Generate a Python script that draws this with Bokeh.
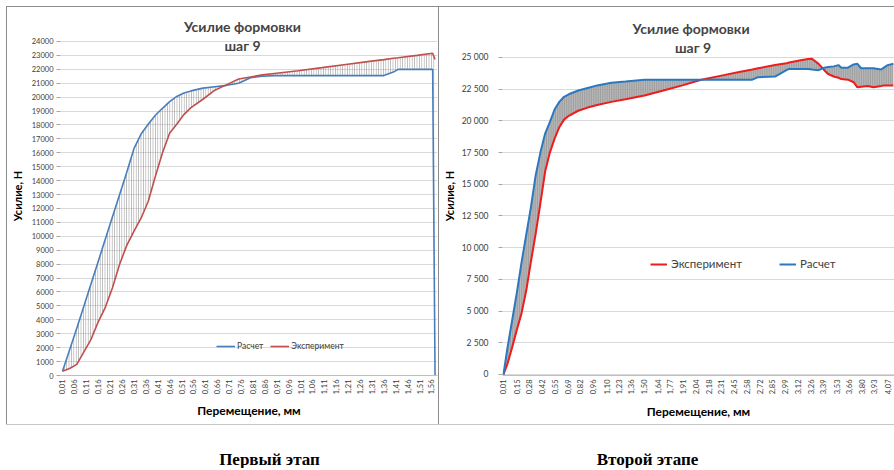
import numpy as np
from bokeh.plotting import figure
from bokeh.models import (Range1d, FixedTicker, Label, Legend, LegendItem,
                          ColumnDataSource, Title, Spacer)
from bokeh.layouts import column, row
from bokeh.embed import file_html
from bokeh.resources import INLINE
from bokeh.core.properties import value

# ---------------- data: first stage ----------------
s1_x = [0.01, 0.04, 0.07, 0.10, 0.13, 0.16, 0.19, 0.22, 0.25, 0.28, 0.31, 0.34,
        0.37, 0.40, 0.43, 0.46, 0.49, 0.52, 0.55, 0.60, 0.65, 0.70, 0.75, 0.80,
        0.85, 0.90, 1.00, 1.10, 1.20, 1.30, 1.36, 1.40, 1.42, 1.50, 1.565, 1.575]
s1_calc = [300, 1850, 3400, 5000, 6600, 8200, 9800, 11400, 13000, 14600, 16300, 17350,
           18060, 18700, 19200, 19680, 20050, 20300, 20450, 20650, 20750, 20850, 21000, 21400,
           21500, 21550, 21550, 21550, 21550, 21550, 21550, 21800, 22000, 22000, 22000, 0]
s1_exp = [300, 500, 800, 1700, 2600, 3850, 4900, 6300, 8000, 9350, 10350, 11300,
          12500, 14300, 16000, 17400, 18050, 18750, 19250, 19850, 20500, 20900, 21300, 21450,
          21600, 21700, 21900, 22120, 22350, 22570, 22700, 22800, 22830, 23000, 23150, 22700]
s1_xlabels = ["0,01", "0,06", "0,11", "0,16", "0,21", "0,26", "0,31", "0,36", "0,41", "0,46",
              "0,51", "0,56", "0,61", "0,66", "0,71", "0,76", "0,81", "0,86", "0,91", "0,96",
              "1,01", "1,06", "1,11", "1,16", "1,21", "1,26", "1,31", "1,36", "1,41", "1,46",
              "1,51", "1,56"]
s1_yticks = list(range(0, 24001, 1000))

# ---------------- data: second stage ----------------
s2_x = [0.01, 0.05, 0.10, 0.15, 0.20, 0.25, 0.30, 0.35, 0.40, 0.45, 0.50, 0.55, 0.60,
        0.65, 0.70, 0.80, 0.90, 1.00, 1.15, 1.30, 1.50, 1.70, 1.90, 2.10, 2.30, 2.50,
        2.64, 2.70, 2.88, 3.00, 3.03, 3.15, 3.23, 3.27, 3.34, 3.40, 3.44, 3.50, 3.55,
        3.58, 3.65, 3.71, 3.75, 3.79, 3.86, 3.92, 4.00, 4.03, 4.07, 4.13]
s2_calc = [0, 2000, 4200, 6400, 8800, 11000, 13200, 15700, 17500, 19000, 19900, 20900, 21500,
           21900, 22100, 22400, 22600, 22800, 23000, 23100, 23250, 23250, 23250, 23250, 23250, 23250,
           23250, 23450, 23500, 24000, 24100, 24100, 24100, 24050, 24000, 24200, 24250, 24300, 24400,
           24200, 24200, 24450, 24500, 24150, 24150, 24150, 24050, 24200, 24400, 24500]
s2_exp = [0, 800, 2100, 3500, 4800, 6600, 8900, 11100, 13500, 16000, 17500, 18600, 19500,
          20100, 20400, 20800, 21050, 21250, 21500, 21700, 22000, 22400, 22800, 23250, 23550, 23850,
          24050, 24150, 24400, 24550, 24600, 24780, 24880, 24900, 24500, 24000, 23700, 23500, 23400,
          23300, 23250, 23050, 22650, 22700, 22750, 22650, 22750, 22800, 22800, 22800]
s2_xlabels = ["0,01", "0,15", "0,28", "0,42", "0,55", "0,69", "0,82", "0,96", "1,10", "1,23",
              "1,36", "1,50", "1,64", "1,77", "1,91", "2,04", "2,18", "2,31", "2,45", "2,58",
              "2,72", "2,85", "2,99", "3,12", "3,26", "3,39", "3,53", "3,66", "3,80", "3,93",
              "4,07"]
s2_yticks = list(range(0, 25001, 2500))
s2_ylabels = ["0", "2 500", "5 000", "7 500", "10 000", "12 500", "15 000", "17 500",
              "20 000", "22 500", "25 000"]

title_1 = "Усилие формовки"
title_2 = "шаг 9"
x_title = "Перемещение, мм"
y_title = "Усилие, Н"
name_calc = "Расчет"
name_exp = "Эксперимент"
captions = ["Первый этап", "Второй этапе"]

FONT = "Lato"
BORDER = {"outline": "1px solid #8c8c8c"}


def style_common(p):
    p.outline_line_color = None
    p.background_fill_color = "white"
    p.border_fill_color = "white"
    p.xgrid.visible = False
    p.ygrid.grid_line_color = "#d9d9d9"
    p.ygrid.grid_line_width = 1
    for ax in (p.xaxis[0], p.yaxis[0]):
        ax.major_label_text_font = FONT
        ax.major_label_text_color = "#404040"
        ax.axis_label_text_font = FONT
        ax.axis_label_text_font_style = "bold"
        ax.axis_label_text_color = "#000000"
        ax.minor_tick_line_color = None
    p.yaxis.axis_line_color = None
    p.yaxis.major_tick_line_color = "#a6a6a6"
    p.yaxis.major_tick_out = 4
    p.yaxis.major_tick_in = 0
    p.xaxis.axis_line_color = "#bfbfbf"
    p.xaxis.major_tick_line_color = None
    p.xaxis.major_tick_out = 0
    p.xaxis.major_tick_in = 0
    p.xaxis.major_label_orientation = np.pi / 2


# ---------------- first chart ----------------
W1, H1 = 431, 417
p1 = figure(width=W1, height=H1, output_backend="svg", toolbar_location=None,
            x_range=Range1d(0.0016, 1.5853), y_range=Range1d(0, 25796),
            min_border_left=53, min_border_right=1, min_border_top=9, min_border_bottom=49,
            styles=BORDER)
style_common(p1)
src1 = ColumnDataSource(dict(x=s1_x, calc=s1_calc, exp=s1_exp))
p1.varea(x="x", y1="calc", y2="exp", source=src1, fill_color=None,
         hatch_pattern="vertical_line", hatch_color="#7a7a7a", hatch_scale=2.4,
         hatch_weight=0.6)
r1c = p1.line("x", "calc", source=src1, line_color="#4a7ebb", line_width=1.6)
r1e = p1.line("x", "exp", source=src1, line_color="#c0504d", line_width=1.6)

p1.yaxis.ticker = FixedTicker(ticks=s1_yticks)
p1.xaxis.ticker = FixedTicker(ticks=[float(s.replace(",", ".")) for s in s1_xlabels])
p1.xaxis.major_label_overrides = {float(s.replace(",", ".")): s for s in s1_xlabels}
p1.yaxis.major_label_text_font_size = "7.5px"
p1.xaxis.major_label_text_font_size = "7.5px"
p1.xaxis.major_label_standoff = 4
p1.yaxis.major_label_standoff = 3
p1.xaxis.axis_label = x_title
p1.yaxis.axis_label = y_title
p1.xaxis.axis_label_text_font_size = "12px"
p1.yaxis.axis_label_text_font_size = "11px"
p1.xaxis.axis_label_standoff = 6
p1.yaxis.axis_label_standoff = 5

p1.add_layout(Label(x=0.766, y=25078, text=title_1, text_font=FONT, text_font_size="14px",
                    text_font_style="bold", text_align="center", text_baseline="middle"))
p1.add_layout(Label(x=0.766, y=23713, text=title_2, text_font=FONT, text_font_size="14px",
                    text_font_style="bold", text_align="center", text_baseline="middle"))

leg1 = Legend(items=[LegendItem(label=name_calc, renderers=[r1c]),
                     LegendItem(label=name_exp, renderers=[r1e])],
              orientation="horizontal", location=(156, 24), padding=0, margin=0,
              spacing=7, label_standoff=2, glyph_width=19, glyph_height=8, label_height=8,
              label_text_font=FONT, label_text_font_size="8.5px", label_text_color="#404040",
              border_line_color=None, background_fill_color=None)
p1.add_layout(leg1)

# ---------------- second chart ----------------
W2, H2 = 455, 417
p2 = figure(width=W2, height=H2, output_backend="svg", toolbar_location=None,
            x_range=Range1d(-0.0004, 4.142), y_range=Range1d(-79, 28233),
            min_border_left=58, min_border_right=0, min_border_top=9, min_border_bottom=49,
            styles=BORDER)
style_common(p2)
src2 = ColumnDataSource(dict(x=s2_x, calc=s2_calc, exp=s2_exp))
p2.varea(x="x", y1="calc", y2="exp", source=src2, fill_color="#a8a8a8", fill_alpha=0.8,
         hatch_pattern="vertical_line", hatch_color="#5c5c5c", hatch_scale=1.8,
         hatch_weight=0.7)
r2e = p2.line("x", "exp", source=src2, line_color="#ee1c1c", line_width=2)
r2c = p2.line("x", "calc", source=src2, line_color="#2a78bf", line_width=2)

p2.yaxis.ticker = FixedTicker(ticks=s2_yticks)
p2.yaxis.major_label_overrides = {t: s for t, s in zip(s2_yticks, s2_ylabels)}
p2.xaxis.ticker = FixedTicker(ticks=[float(s.replace(",", ".")) for s in s2_xlabels])
p2.xaxis.major_label_overrides = {float(s.replace(",", ".")): s for s in s2_xlabels}
p2.yaxis.major_label_text_font_size = "8.5px"
p2.xaxis.major_label_text_font_size = "7.5px"
p2.xaxis.major_label_standoff = 4
p2.yaxis.major_label_standoff = 10
p2.yaxis.axis_label = y_title
p2.yaxis.axis_label_text_font_size = "11px"
p2.yaxis.axis_label_standoff = 3

p2.add_layout(Label(x=1.992, y=27287, text=title_1, text_font=FONT, text_font_size="14px",
                    text_font_style="bold", text_align="center", text_baseline="middle"))
p2.add_layout(Label(x=2.013, y=25789, text=title_2, text_font=FONT, text_font_size="14px",
                    text_font_style="bold", text_align="center", text_baseline="middle"))
p2.add_layout(Title(text=x_title, align="center", offset=15, standoff=8, text_font=FONT,
                    text_font_size="12px", text_font_style="bold", text_color="black"), "below")

leg2 = Legend(items=[LegendItem(label=name_exp, renderers=[r2e]),
                     LegendItem(label=name_calc, renderers=[r2c])],
              orientation="horizontal", location=(148, 105), padding=0, margin=0,
              spacing=37, label_standoff=4, glyph_width=17, glyph_height=10, label_height=10,
              label_text_font=FONT, label_text_font_size="11.5px", label_text_color="#404040",
              border_line_color=None, background_fill_color=None)
p2.add_layout(leg2)

# ---------------- captions ----------------
cap = figure(width=894, height=44, output_backend="svg", toolbar_location=None,
             x_range=Range1d(0, 894), y_range=Range1d(0, 44), min_border=0)
cap.axis.visible = False
cap.grid.visible = False
cap.outline_line_color = None
cap.text(x=[269, 647], y=[9, 9], text=captions, text_font=value("Liberation Serif"),
         text_font_size="17px", text_font_style="bold", text_align="center",
         text_baseline="alphabetic", text_color="black")

layout = column(Spacer(height=7),
                row(Spacer(width=7), p1, Spacer(width=1), p2),
                cap)
open("out.html", "w").write(file_html(layout, INLINE))
